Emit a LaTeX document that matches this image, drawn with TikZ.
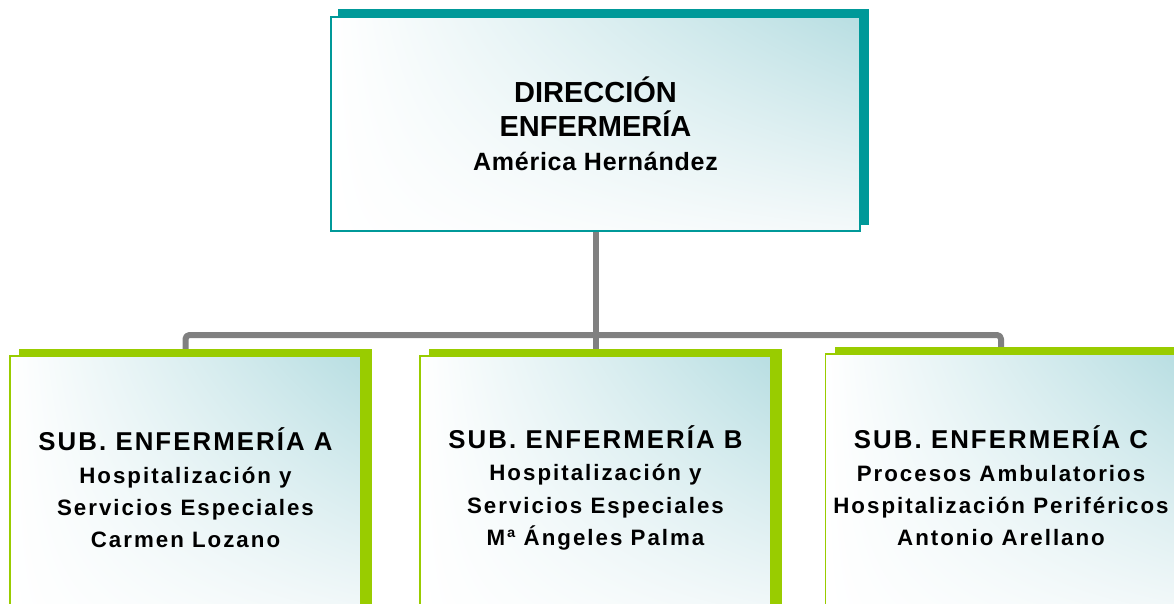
\documentclass[tikz,border=0pt]{standalone}
\usepackage{fontspec}
\setmainfont{Liberation Sans}
\usetikzlibrary{backgrounds,shadings}

\definecolor{tealdark}{RGB}{0,153,153}
\definecolor{limegreen}{RGB}{153,204,0}
\definecolor{lineGray}{RGB}{128,128,128}
\definecolor{paleteal}{RGB}{184,222,226}
\definecolor{palewhite}{RGB}{244,249,250}

\tikzset{
  box/.style={rectangle, line width=1.5pt, align=center, inner sep=0pt,
    upper left=white, lower left=white, upper right=paleteal, lower right=palewhite},
  headbox/.style={box, draw=tealdark, minimum width=529pt, minimum height=214pt,
    font=\fontsize{29}{34}\selectfont\bfseries},
  subbox/.style={box, draw=limegreen, minimum width=351pt, minimum height=264pt,
    font=\fontsize{22.3}{32.3}\selectfont\bfseries},
  conn/.style={draw=lineGray, line width=6pt, line join=round, line cap=round}
}
\newcommand{\namefont}{\fontsize{25}{34}\selectfont\addfontfeature{LetterSpace=3}}
\newcommand{\subtitlefont}{\fontsize{25.8}{32.3}\selectfont\addfontfeature{LetterSpace=8}}
\newcommand{\sublinefont}{\addfontfeature{LetterSpace=9}}

\begin{document}
\begin{tikzpicture}[x=1pt,y=-1pt]
  \useasboundingbox (0,0) rectangle (1174,604);
  % Boxes
  \node[headbox] (dir) at (595.5,124)
    {DIRECCIÓN\\ ENFERMERÍA\\ \namefont América Hernández};
  \node[subbox] (subA) at (185.5,488)
    {\subtitlefont SUB. ENFERMERÍA A\\ \sublinefont Hospitalización y\\
     \sublinefont Servicios Especiales\\ \sublinefont Carmen Lozano};
  \node[subbox] (subB) at (595.5,488)
    {\subtitlefont SUB. ENFERMERÍA B\\ \sublinefont Hospitalización y\\
     \sublinefont Servicios Especiales\\ \sublinefont Mª Ángeles Palma};
  \node[subbox] (subC) at (1001,486)
    {\subtitlefont SUB. ENFERMERÍA C\\ \sublinefont Procesos Ambulatorios\\
     \sublinefont Hospitalización Periféricos\\ \sublinefont Antonio Arellano};
  \begin{scope}[on background layer]
    % Lines
    \coordinate (bus) at (595.5,335);
    \draw[conn] (dir.south) -- (subB.north);
    \draw[conn, rounded corners=4pt] (subA.north) -- (subA.north |- bus)
      -- (subC.north |- bus) -- (subC.north);
    % Shadows
    \fill[tealdark] ([shift={(8,-7)}]dir.south west) rectangle ([shift={(8,-7)}]dir.north east);
    \foreach \n in {subA,subB,subC}
      \fill[limegreen] ([shift={(10,-6)}]\n.south west) rectangle ([shift={(10,-6)}]\n.north east);
  \end{scope}
\end{tikzpicture}
\end{document}
